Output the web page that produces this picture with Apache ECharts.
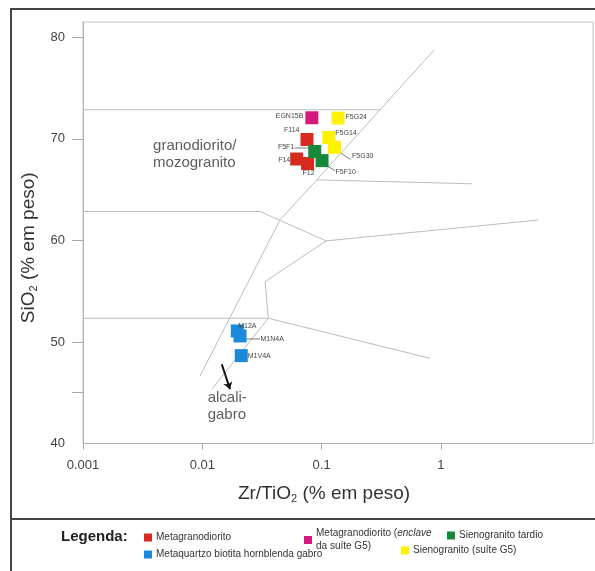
<!DOCTYPE html>
<html>
<head>
<meta charset="utf-8">
<script src="https://cdn.jsdelivr.net/npm/echarts@6/dist/echarts.min.js"></script>
<style>
  html, body { margin: 0; padding: 0; background: #ffffff; }
  #chart { width: 595px; height: 571px; }
</style>
</head>
<body>
<div id="chart"></div>
<script>
// Zr/TiO2 vs SiO2 (wt %) per rock group
const metagranodioritoNames = ['F114', 'F14', 'F12'];
const metagranodioritoZrTiO2 = [0.0754, 0.0618, 0.0762];
const metagranodioritoSiO2 = [69.93, 68.01, 67.57];

const enclaveNames = ['EGN15B'];
const enclaveZrTiO2 = [0.0828];
const enclaveSiO2 = [72.07];

const sienogranitoTardioNames = ['F5F1', 'F5F10'];
const sienogranitoTardioZrTiO2 = [0.0875, 0.1008];
const sienogranitoTardioSiO2 = [68.75, 67.85];

const gabroNames = ['M12A', 'M1N4A', 'M1V4A'];
const gabroZrTiO2 = [0.01965, 0.0207, 0.0212];
const gabroSiO2 = [51.08, 50.59, 48.65];

const sienogranitoG5Names = ['F5G24', 'F5G14', 'F5G30'];
const sienogranitoG5ZrTiO2 = [0.1372, 0.1149, 0.1282];
const sienogranitoG5SiO2 = [72.04, 70.13, 69.16];

// Series (legend) names
const groupNames = [
  'Metagranodiorito',
  'Metagranodiorito (enclave da suíte G5)',
  'Sienogranito tardio',
  'Metaquartzo biotita hornblenda gabro',
  'Sienogranito (suíte G5)'
];

// Classification field boundaries (Zr/TiO2, SiO2)
const boundaryUpper = [[0.001, 72.86], [0.309, 72.86]];
const boundaryMain = [[0.880, 78.77], [0.0910, 65.96], [0.0448, 62.02], [0.00957, 46.65]];
const boundaryUpperRight = [[0.0910, 65.96], [1.823, 65.57]];
const boundaryMiddle = [[0.001, 62.84], [0.0305, 62.84], [0.109, 59.95], [6.52, 62.0]];
const boundaryInner = [[0.109, 59.95], [0.03353, 55.94], [0.0357, 52.33], [0.01206, 45.37]];
const boundaryLower = [[0.001, 52.33], [0.0357, 52.33], [0.810, 48.39]];

// Field names and the arrow pointing into the alkali gabbro field
const fieldLabels = [
  { text: 'granodiorito/\nmozogranito', at: [0.003865, 68.42] },
  { text: 'alcali-\ngabro', at: [0.01109, 43.63] }
];
const arrowPath = [[0.01456, 47.80], [0.01706, 45.34]];

// Axis ticks
const xTickValues = [0.001, 0.01, 0.1, 1];
const xTickLabels = ['0.001', '0.01', '0.1', '1'];
const yTickValues = [45, 50, 60, 70, 80];
const yLabelValues = [40, 50, 60, 70, 80];

// ---- styling ----
const FONT = 'Liberation Sans, Arial, sans-serif';
const groupColors = ['#d82b20', '#d6197f', '#17893b', '#1c8ad8', '#fff200'];

const labelPlacement = {
  EGN15B: { position: 'left', distance: 2, offset: [0, -2] },
  F5G24: { position: 'right', distance: 1, offset: [0, -1] },
  F114: { position: 'left', distance: 1, offset: [0, -9] },
  F5G14: { position: 'right', distance: 0, offset: [0, -4] },
  F5F1: { position: 'left', distance: 14, offset: [0, -4] },
  F5G30: { position: 'right', distance: 11, offset: [0, 9] },
  F14: { position: 'left', distance: 0, offset: [0, 1] },
  F12: { position: 'bottom', distance: 0, offset: [1, 0] },
  F5F10: { position: 'right', distance: 7, offset: [0, 11] },
  M12A: { position: 'top', distance: 0, offset: [10, 5] },
  M1N4A: { position: 'right', distance: 14, offset: [0, 3] },
  M1V4A: { position: 'right', distance: 0, offset: [0, 0] }
};

// Short leader lines from a sample symbol to its name (pixel offsets from the symbol centre)
const leaderOffsets = {
  F5F1: [-20, -3.5, -6, -3.5],
  F5G30: [2, 3, 16, 12],
  F5F10: [3, 4, 13, 10],
  M1N4A: [5, 3, 20, 3]
};

const groups = [
  [metagranodioritoNames, metagranodioritoZrTiO2, metagranodioritoSiO2],
  [enclaveNames, enclaveZrTiO2, enclaveSiO2],
  [sienogranitoTardioNames, sienogranitoTardioZrTiO2, sienogranitoTardioSiO2],
  [gabroNames, gabroZrTiO2, gabroSiO2],
  [sienogranitoG5Names, sienogranitoG5ZrTiO2, sienogranitoG5SiO2]
];

const sampleSeries = groups.map(function (g, gi) {
  const names = g[0], xs = g[1], ys = g[2];
  return {
    name: groupNames[gi],
    type: 'scatter',
    symbol: 'rect',
    symbolSize: 13,
    z: 5,
    itemStyle: { color: groupColors[gi], opacity: 1 },
    data: names.map(function (n, i) {
      const p = labelPlacement[n];
      return {
        name: n,
        value: [xs[i], ys[i]],
        label: {
          show: true,
          formatter: n,
          position: p.position,
          distance: p.distance,
          offset: p.offset,
          fontSize: 7,
          fontFamily: FONT,
          color: '#444'
        }
      };
    }),
    emphasis: { disabled: true }
  };
});

// leader line data: [x, y, dx1, dy1, dx2, dy2]
const leaderData = [];
groups.forEach(function (g) {
  g[0].forEach(function (n, i) {
    if (leaderOffsets[n]) {
      leaderData.push([g[1][i], g[2][i]].concat(leaderOffsets[n]));
    }
  });
});

const lineStyleBoundary = { color: '#bcbcbc', width: 1, opacity: 1 };

const boundarySeries = {
  type: 'lines',
  coordinateSystem: 'cartesian2d',
  polyline: true,
  silent: true,
  z: 2,
  lineStyle: lineStyleBoundary,
  data: [boundaryUpper, boundaryMain, boundaryUpperRight, boundaryMiddle, boundaryInner, boundaryLower]
    .map(function (c) { return { coords: c }; })
};

const arrowSeries = {
  type: 'lines',
  coordinateSystem: 'cartesian2d',
  silent: true,
  z: 3,
  symbol: ['none', 'arrow'],
  symbolSize: 7,
  lineStyle: { color: '#111', width: 2, opacity: 1 },
  data: [{ coords: arrowPath }]
};

const fieldLabelSeries = {
  type: 'scatter',
  silent: true,
  symbolSize: 0,
  z: 4,
  data: fieldLabels.map(function (f) {
    return {
      value: f.at,
      label: {
        show: true,
        formatter: f.text,
        position: 'right',
        distance: 0,
        align: 'left',
        fontSize: 15,
        lineHeight: 17,
        fontFamily: FONT,
        color: '#333'
      }
    };
  })
};

const leaderSeries = {
  type: 'custom',
  silent: true,
  z: 4,
  data: leaderData,
  encode: { x: 0, y: 1 },
  renderItem: function (params, api) {
    const p = api.coord([api.value(0), api.value(1)]);
    return {
      type: 'line',
      shape: {
        x1: p[0] + api.value(2), y1: p[1] + api.value(3),
        x2: p[0] + api.value(4), y2: p[1] + api.value(5)
      },
      style: { stroke: '#555', lineWidth: 0.8 }
    };
  }
};

function legendItem(name, left, top) {
  return {
    data: [name],
    left: left,
    top: top,
    orient: 'horizontal',
    padding: 0,
    icon: 'rect',
    itemWidth: 8,
    itemHeight: 8,
    itemGap: 0,
    selectedMode: false,
    textStyle: {
      fontSize: 10,
      lineHeight: 13,
      fontFamily: FONT,
      color: '#333',
      padding: [0, 0, 0, -1],
      rich: {
        i: { fontSize: 10, lineHeight: 13, fontFamily: FONT, color: '#333', fontStyle: 'italic' }
      }
    },
    formatter: function (n) {
      if (n === groupNames[1]) return 'Metagranodiorito ({i|enclave}\nda suíte G5)';
      return n;
    }
  };
}

const chart = echarts.init(document.getElementById('chart'), null, { renderer: 'canvas' });

chart.setOption({
  animation: false,
  backgroundColor: '#ffffff',
  grid: {
    left: 83, top: 22, width: 510, height: 421.5,
    show: true, borderColor: '#c4c4c4', borderWidth: 1,
    containLabel: false, outerBoundsMode: 'none'
  },
  xAxis: {
    type: 'log',
    logBase: 10,
    min: 0.001,
    max: 18.8,
    axisLine: { show: true, lineStyle: { color: '#b4b4b4', width: 1 } },
    axisTick: { show: true, length: 6, customValues: xTickValues, lineStyle: { color: '#a8a8a8' } },
    axisLabel: {
      customValues: xTickValues,
      margin: 15,
      fontSize: 13,
      fontFamily: FONT,
      color: '#444',
      formatter: function (v) {
        const k = xTickValues.findIndex(function (t) { return Math.abs(Math.log10(t) - Math.log10(v)) < 1e-6; });
        return k >= 0 ? xTickLabels[k] : '';
      }
    },
    splitLine: { show: false },
    name: 'Zr/TiO{s|2} (% em peso)',
    nameLocation: 'middle',
    nameGap: 40,
    nameTextStyle: {
      fontSize: 19, fontFamily: FONT, color: '#333',
      padding: [0, 28, 0, 0],
      rich: { s: { fontSize: 11, fontFamily: FONT, color: '#333', padding: [10, 0, 0, 0] } }
    }
  },
  yAxis: {
    type: 'value',
    min: 40,
    max: 81.5,
    axisLine: { show: true, lineStyle: { color: '#b4b4b4', width: 1 } },
    axisTick: { show: true, length: 11, customValues: yTickValues, lineStyle: { color: '#a8a8a8' } },
    axisLabel: {
      customValues: yLabelValues,
      margin: 18,
      fontSize: 13,
      fontFamily: FONT,
      color: '#444',
      padding: [0, 0, 9, 0]
    },
    splitLine: { show: false },
    name: 'SiO{s|2} (% em peso)',
    nameLocation: 'middle',
    nameRotate: 90,
    nameGap: 40,
    nameTextStyle: {
      fontSize: 19, fontFamily: FONT, color: '#333',
      padding: [0, 30, 0, 0],
      rich: { s: { fontSize: 11, fontFamily: FONT, color: '#333', padding: [10, 0, 0, 0] } }
    }
  },
  legend: [
    legendItem(groupNames[0], 144, 531),
    legendItem(groupNames[1], 304, 527),
    legendItem(groupNames[2], 447, 529),
    legendItem(groupNames[3], 144, 548),
    legendItem(groupNames[4], 401, 544)
  ],
  graphic: [
    {
      type: 'polyline',
      silent: true,
      shape: { points: [[600, 9], [11, 9], [11, 575]] },
      style: { stroke: '#444', lineWidth: 2, fill: null }
    },
    {
      type: 'line',
      silent: true,
      shape: { x1: 11, y1: 519, x2: 600, y2: 519 },
      style: { stroke: '#444', lineWidth: 2 }
    },
    {
      type: 'text',
      silent: true,
      left: 61,
      top: 529,
      style: { text: 'Legenda:', fontSize: 15, fontWeight: 'bold', fontFamily: FONT, fill: '#222' }
    }
  ],
  series: [boundarySeries, arrowSeries, fieldLabelSeries, leaderSeries].concat(sampleSeries)
});
</script>
</body>
</html>
